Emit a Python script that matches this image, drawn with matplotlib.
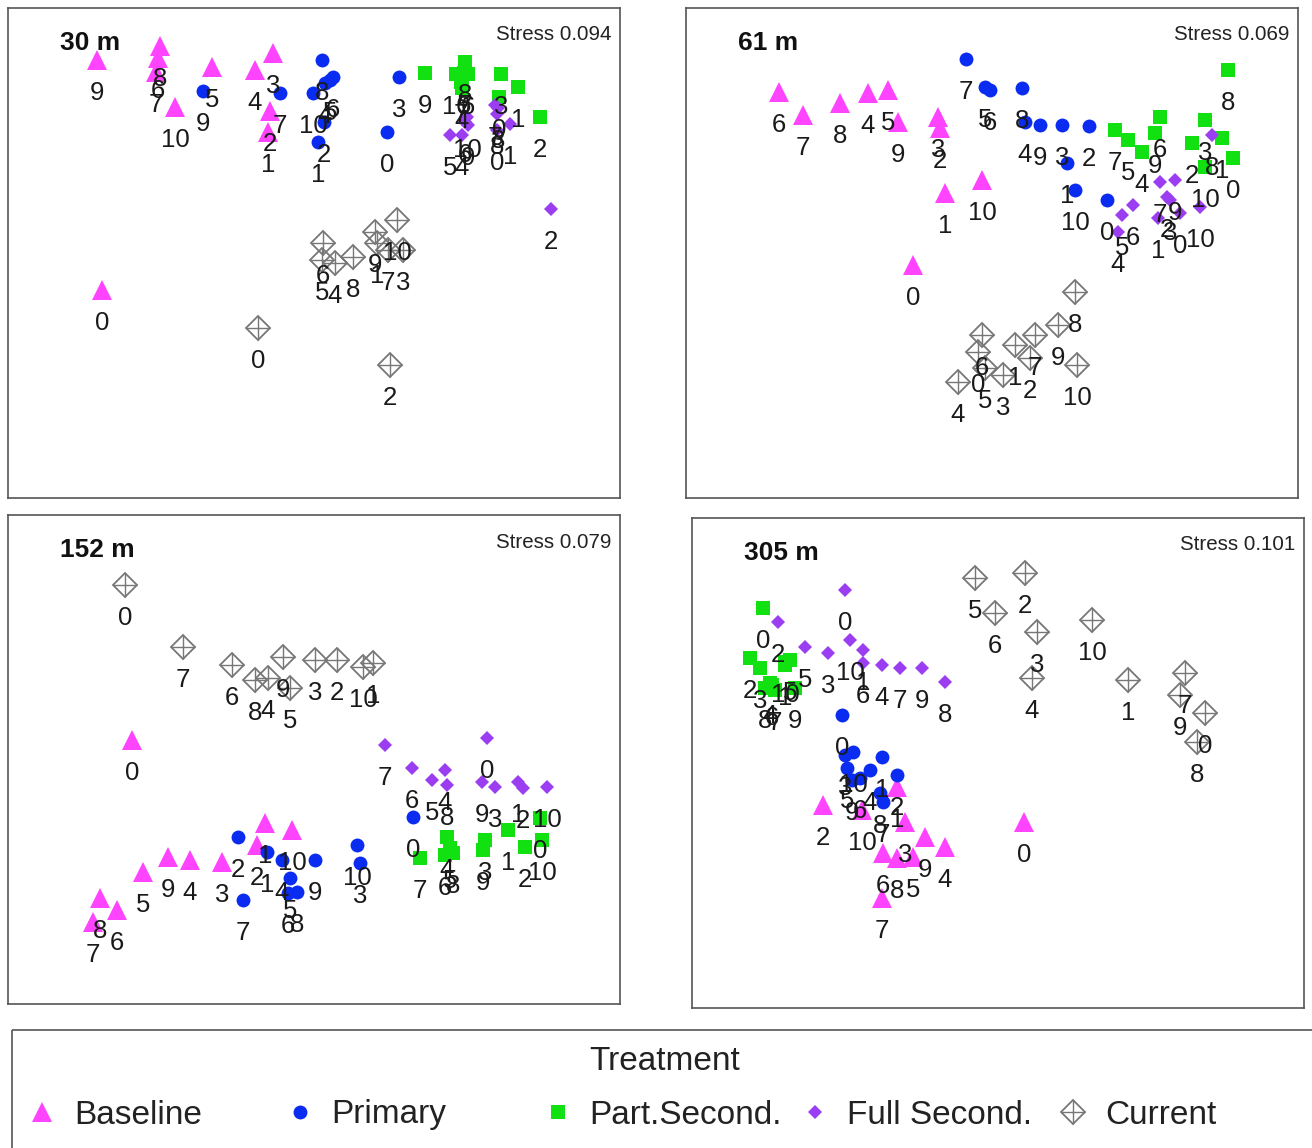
import matplotlib
matplotlib.use("Agg")
import matplotlib.pyplot as plt
from matplotlib.patches import Rectangle

plt.rcParams['font.family'] = ['Liberation Sans', 'DejaVu Sans']

W, H = 1312, 1148

# ---------------- data (NMDS scores, in picture units) --------
site_labels = [str(i) for i in range(11)]          # sampling times 0..10

treatments = ["Baseline", "Primary", "Part.Second.", "Full Second.", "Current"]

depths = ["30 m", "61 m", "152 m", "305 m"]
stress = ["Stress 0.094", "Stress 0.069", "Stress 0.079", "Stress 0.101"]

# 30 m
m30_baseline = [(102, 290), (268, 132), (270, 111), (273, 53), (255, 70), (212, 67),
                (158, 58), (156, 72), (160, 46), (97, 60), (175, 107)]
m30_primary = [(387, 132), (318, 142), (324, 122), (399, 77), (325, 83), (330, 80),
               (333, 77), (280, 93), (322, 60), (203, 91), (313, 93)]
m30_partsec = [(499, 97), (518, 87), (540, 117), (501, 74), (462, 88), (464, 73),
               (468, 74), (461, 82), (465, 62), (425, 73), (456, 74)]
m30_fullsec = [(497, 130), (510, 124), (551, 209), (498, 108), (462, 135), (450, 135),
               (465, 122), (495, 105), (497, 114), (468, 125), (467, 117)]
m30_current = [(258, 328), (377, 243), (390, 365), (403, 250), (335, 263), (322, 260),
               (323, 243), (388, 250), (353, 257), (375, 232), (397, 220)]

# 61 m
m61_baseline = [(913, 265), (945, 193), (940, 128), (938, 117), (868, 93), (888, 90),
                (779, 92), (803, 115), (840, 103), (898, 122), (982, 180)]
m61_primary = [(1107, 200), (1067, 163), (1089, 126), (1062, 125), (1025, 122), (985, 87),
               (990, 90), (966, 59), (1022, 88), (1040, 125), (1075, 190)]
m61_partsec = [(1233, 158), (1222, 138), (1192, 143), (1205, 120), (1142, 152), (1128, 140),
               (1160, 117), (1115, 130), (1228, 70), (1155, 133), (1205, 167)]
m61_fullsec = [(1180, 213), (1158, 218), (1167, 197), (1170, 200), (1118, 232), (1122, 215),
               (1133, 205), (1160, 182), (1212, 135), (1175, 180), (1200, 207)]
m61_current = [(978, 352), (1015, 345), (1030, 358), (1003, 375), (958, 382), (985, 368),
               (982, 335), (1035, 335), (1075, 292), (1058, 325), (1077, 365)]

# 152 m
m152_baseline = [(132, 740), (265, 823), (257, 845), (222, 862), (190, 860), (143, 872),
                 (117, 910), (93, 922), (100, 898), (168, 857), (292, 830)]
m152_primary = [(413, 817), (267, 852), (238, 837), (360, 863), (282, 860), (290, 878),
                (288, 893), (243, 900), (297, 892), (315, 860), (357, 845)]
m152_partsec = [(540, 818), (508, 830), (525, 847), (485, 840), (447, 837), (450, 848),
                (445, 855), (420, 858), (453, 853), (483, 850), (542, 840)]
m152_fullsec = [(487, 738), (518, 782), (523, 788), (495, 787), (445, 770), (432, 780),
                (412, 768), (385, 745), (447, 785), (482, 782), (547, 787)]
m152_current = [(125, 585), (373, 663), (337, 660), (315, 660), (268, 678), (290, 688),
                (232, 665), (183, 647), (255, 680), (283, 657), (363, 667)]

# 305 m
m305_baseline = [(1024, 822), (897, 787), (823, 805), (905, 822), (945, 847), (913, 857),
                 (883, 853), (882, 898), (897, 858), (925, 837), (862, 810)]
m305_primary = [(842, 715), (882, 757), (897, 775), (845, 755), (870, 770), (847, 768),
                (860, 778), (883, 802), (880, 793), (852, 780), (853, 752)]
m305_partsec = [(763, 608), (785, 665), (750, 658), (760, 668), (770, 683), (790, 660),
                (772, 685), (775, 690), (765, 688), (795, 688), (785, 662)]
m305_fullsec = [(845, 590), (863, 650), (778, 622), (828, 653), (882, 665), (805, 647),
                (863, 663), (900, 668), (945, 682), (922, 668), (850, 640)]
m305_current = [(1205, 713), (1128, 680), (1025, 573), (1037, 632), (1032, 678), (975, 578),
                (995, 613), (1185, 673), (1197, 742), (1180, 695), (1092, 620)]

panel_data = [
    [m30_baseline, m30_primary, m30_partsec, m30_fullsec, m30_current],
    [m61_baseline, m61_primary, m61_partsec, m61_fullsec, m61_current],
    [m152_baseline, m152_primary, m152_partsec, m152_fullsec, m152_current],
    [m305_baseline, m305_primary, m305_partsec, m305_fullsec, m305_current],
]

# ---------------- layout / style ----------------
panel_boxes = [(8, 8, 620, 498), (686, 8, 1298, 498),
               (8, 515, 620, 1004), (692, 518, 1304, 1008)]

styles = {
    "Baseline":     dict(marker="^", color="#FF44FF", ms=14.5),
    "Primary":      dict(marker="o", color="#0A2BF0", ms=10.0),
    "Part.Second.": dict(marker="s", color="#11E011", ms=10.5),
    "Full Second.": dict(marker="D", color="#9B3DF0", ms=7.2),
    "Current":      dict(marker="D", color="#777777", ms=11.8),
}


def draw_marker(ax, x, y, name, scale=1.0, **kw):
    st = styles[name]
    if name == "Current":
        ax.plot(x, y, linestyle="none", marker="D", ms=st["ms"] * scale,
                mfc="none", mec=st["color"], mew=1.3, **kw)
        ax.plot(x, y, linestyle="none", marker="+", ms=st["ms"] * 1.41 * scale,
                mec=st["color"], mew=1.0, **kw)
    else:
        ax.plot(x, y, linestyle="none", marker=st["marker"], ms=st["ms"] * scale,
                mfc=st["color"], mec="none", mew=0, **kw)


fig = plt.figure(figsize=(W / 100, H / 100), dpi=100)

for p, (l, t, r, b) in enumerate(panel_boxes):
    ax = fig.add_axes([l / W, 1 - b / H, (r - l) / W, (b - t) / H])
    ax.set_xlim(l, r)
    ax.set_ylim(b, t)
    ax.set_xticks([])
    ax.set_yticks([])
    for sp in ax.spines.values():
        sp.set_color("#555555")
        sp.set_linewidth(1.2)
    for name, pts in zip(treatments, panel_data[p]):
        xs = [q[0] for q in pts]
        ys = [q[1] for q in pts]
        draw_marker(ax, xs, ys, name, zorder=2)
    for name, pts in zip(treatments, panel_data[p]):
        for lab, (x, y) in zip(site_labels, pts):
            ax.annotate(lab, (x, y), xytext=(0, -23.5), textcoords="offset points",
                        ha="center", va="center", fontsize=18.5, color="#1a1a1a",
                        zorder=3, annotation_clip=False)
    ax.text(l + 52, t + 35, depths[p], fontsize=19, fontweight="bold",
            ha="left", va="center", color="#111111")
    ax.text(r - 9, t + 27, stress[p], fontsize=14.8, ha="right", va="center",
            color="#222222")

# ---------------- legend ----------------
lax = fig.add_axes([0, 0, 1, 1])
lax.set_xlim(0, W)
lax.set_ylim(H, 0)
lax.axis("off")
lax.add_patch(Rectangle((12, 1030), W, 200, fill=False, ec="#555555", lw=1.2))
lax.text(665, 1062, "Treatment", fontsize=24, ha="center", va="center", color="#222222")
key_x0, key_step, key_y = 42, 257.75, 1112
for i, name in enumerate(treatments):
    kx = key_x0 + i * key_step
    draw_marker(lax, [kx], [key_y], name, scale=1.0)
    lax.text(kx + 32, key_y + 3, name, fontsize=24, ha="left", va="center", color="#222222")

fig.savefig("out.png", dpi=100)
